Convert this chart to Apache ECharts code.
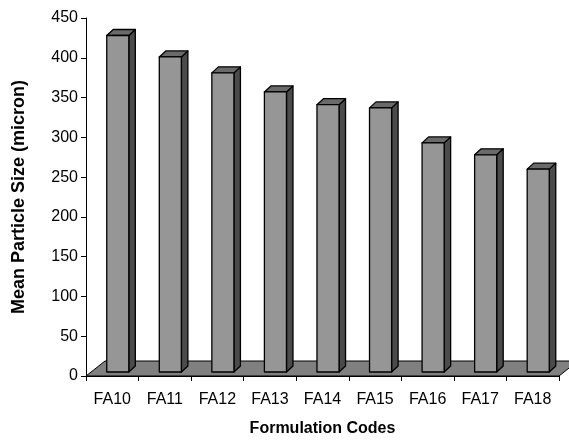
<!DOCTYPE html>
<html>
<head>
<meta charset="utf-8">
<script src="https://cdn.jsdelivr.net/npm/echarts@6/dist/echarts.min.js"></script>
<style>
  html, body { margin: 0; padding: 0; background: #fff; }
  #chart { width: 569px; height: 442px; }
</style>
</head>
<body>
<div id="chart"></div>
<script>
// Formulation codes and their mean particle size (micron)
const categories = ['FA10', 'FA11', 'FA12', 'FA13', 'FA14', 'FA15', 'FA16', 'FA17', 'FA18'];
const meanSize = [423, 396, 376, 352, 336, 332, 288, 273, 255];
const yMax = 450;
const yStep = 50;

// Oblique projection used for the pseudo-3D floor and columns
const FLOOR_DX = 19, FLOOR_DY = -15;      // depth of the floor slab
const FRONT_DX = 5.5, FRONT_DY = -4;      // front face of columns sits slightly back
const COL_DX = 6.5, COL_DY = -6;          // column depth
const FONT = '"Liberation Sans", Arial, sans-serif';

const chart = echarts.init(document.getElementById('chart'), null, { renderer: 'canvas' });

function renderFloor(params, api) {
  const cs = params.coordSys;
  const x0 = cs.x, x1 = cs.x + cs.width, y = cs.y + cs.height;
  return {
    type: 'polygon',
    shape: { points: [[x0, y], [x1, y], [x1 + FLOOR_DX, y + FLOOR_DY], [x0 + FLOOR_DX, y + FLOOR_DY]] },
    style: { fill: '#808080', stroke: '#000', lineWidth: 1 }
  };
}

function renderColumn(params, api) {
  const i = api.value(0);
  const v = api.value(1);
  const base = api.coord([i, 0]);
  const top = api.coord([i, v]);
  const w = api.size([1, 0])[0] * 0.42;
  const xl = base[0] + FRONT_DX - w / 2;
  const xr = xl + w;
  const yb = base[1] + FRONT_DY;
  const yt = top[1] + FRONT_DY;
  const edge = { stroke: '#000', lineWidth: 1.3, lineJoin: 'round' };
  return {
    type: 'group',
    children: [
      { type: 'polygon', shape: { points: [[xr, yt], [xr + COL_DX, yt + COL_DY], [xr + COL_DX, yb + COL_DY], [xr, yb]] },
        style: Object.assign({ fill: '#4b4b4b' }, edge) },
      { type: 'polygon', shape: { points: [[xl, yt], [xl + COL_DX, yt + COL_DY], [xr + COL_DX, yt + COL_DY], [xr, yt]] },
        style: Object.assign({ fill: '#6a6a6a' }, edge) },
      { type: 'polygon', shape: { points: [[xl, yt], [xr, yt], [xr, yb], [xl, yb]] },
        style: Object.assign({ fill: '#969696' }, edge) }
    ]
  };
}

chart.setOption({
  backgroundColor: '#fff',
  animation: false,
  grid: { left: 86, right: 10, top: 18, bottom: 66 },
  xAxis: {
    type: 'category',
    data: categories,
    name: 'Formulation Codes',
    nameLocation: 'middle',
    nameGap: 45,
    nameTextStyle: { fontFamily: FONT, fontSize: 16, fontWeight: 'bold', color: '#000' },
    axisLine: { show: true, lineStyle: { color: '#000', width: 1 } },
    axisTick: { show: true, interval: 0, length: 5, lineStyle: { color: '#000' } },
    axisLabel: { fontFamily: FONT, fontSize: 16, color: '#000', margin: 16, interval: 0 },
    splitLine: { show: false }
  },
  yAxis: {
    type: 'value',
    min: 0,
    max: yMax,
    interval: yStep,
    name: 'Mean Particle Size (micron)',
    nameLocation: 'middle',
    nameRotate: 90,
    nameGap: 58,
    nameTextStyle: { fontFamily: FONT, fontSize: 18, fontWeight: 'bold', color: '#000' },
    axisLine: { show: true, lineStyle: { color: '#000', width: 1 } },
    axisTick: { show: true, length: 5, lineStyle: { color: '#000' } },
    axisLabel: { fontFamily: FONT, fontSize: 16, color: '#000', margin: 8 },
    splitLine: { show: false }
  },
  series: [
    {
      type: 'custom',
      name: 'floor',
      z: 1,
      silent: true,
      renderItem: renderFloor,
      data: [[0, 0]]
    },
    {
      type: 'custom',
      name: 'Mean Particle Size',
      z: 3,
      renderItem: renderColumn,
      encode: { x: 0, y: 1 },
      data: categories.map((c, i) => [i, meanSize[i]])
    }
  ]
});
</script>
</body>
</html>
